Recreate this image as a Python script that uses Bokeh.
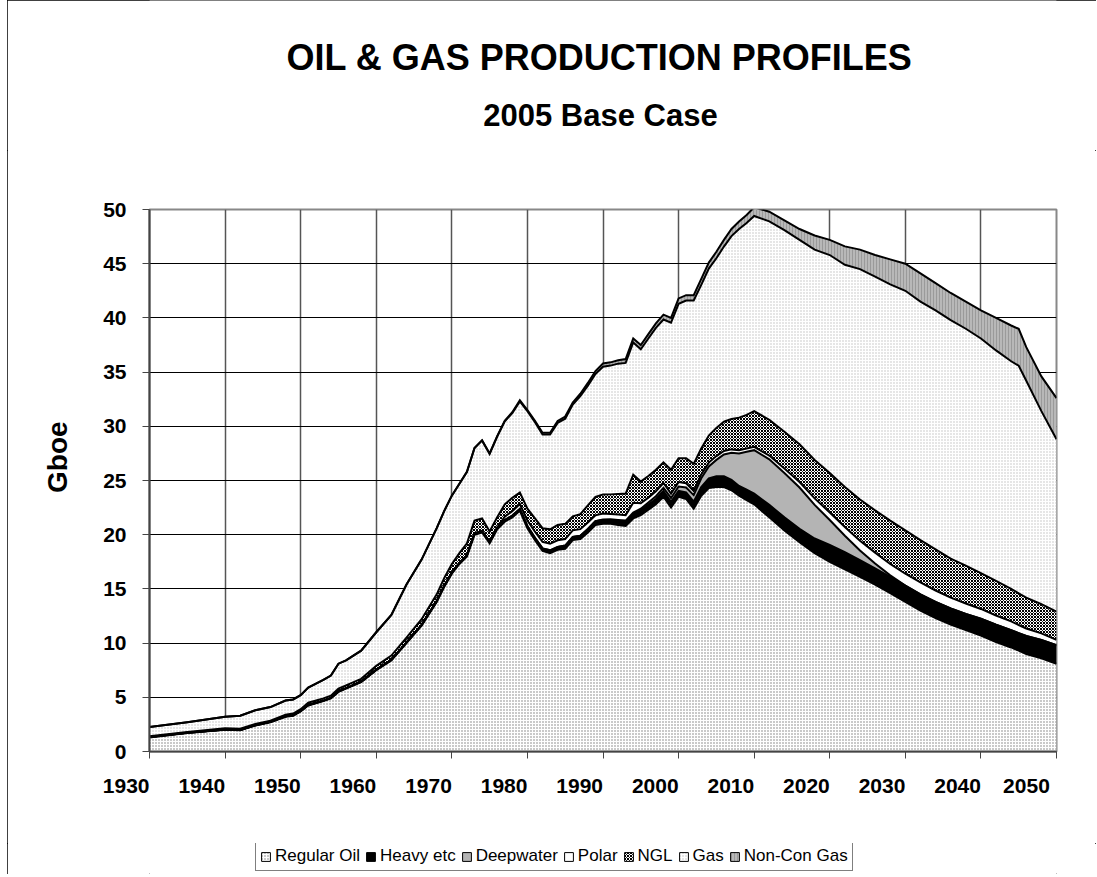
from bokeh.plotting import figure
from bokeh.layouts import column, row
from bokeh.models import (ColumnDataSource, Legend, LegendItem, FixedTicker, Range1d, Label, Spacer)
from bokeh.transform import stack
from bokeh.embed import file_html
from bokeh.resources import INLINE

years = [1930, 1935, 1940, 1942, 1944, 1946, 1948, 1949, 1950, 1951, 1953, 1954, 1955, 1956, 1958,
         1960, 1962, 1964, 1966, 1968,
         1969, 1970, 1971, 1972, 1973, 1974, 1975, 1976, 1977, 1978, 1979, 1980, 1981, 1982, 1983,
         1984, 1985, 1986, 1987, 1988, 1989, 1990, 1991, 1992, 1993, 1994, 1995, 1996, 1997, 1998,
         1999, 2000, 2001, 2002, 2003, 2004, 2005, 2006, 2007, 2008, 2009, 2010,
         2012, 2014, 2016, 2018, 2020, 2022, 2024, 2026, 2028, 2030, 2032, 2034, 2036, 2038, 2040,
         2042, 2044, 2045, 2046, 2048, 2050]

regular_oil = [1.3, 1.7, 2.0, 1.95, 2.4, 2.7, 3.2, 3.3, 3.7, 4.25, 4.65, 4.9, 5.5, 5.8, 6.4,
               7.5, 8.4, 10.0, 11.6, 13.8,
               15.2, 16.4, 17.3, 18.0, 20.0, 20.2, 19.2, 20.5, 21.2, 21.6, 22.2, 20.6, 19.5, 18.5, 18.3,
               18.6, 18.7, 19.5, 19.6, 20.2, 20.9, 21.0, 21.0, 20.9, 20.8, 21.5, 21.8, 22.3, 22.8, 23.5,
               22.5, 23.5, 23.3, 22.4, 23.6, 24.3, 24.4, 24.4, 24.1, 23.6, 23.2, 22.8,
               21.6, 20.4, 19.3, 18.3, 17.5, 16.8, 16.1, 15.4, 14.6, 13.8, 13.0, 12.3, 11.7, 11.2, 10.7,
               10.1, 9.6, 9.3, 9.0, 8.6, 8.1]

heavy = [0.03, 0.03, 0.03, 0.03, 0.03, 0.03, 0.04, 0.04, 0.04, 0.04, 0.04, 0.04, 0.05, 0.05, 0.05,
         0.05, 0.06, 0.07, 0.08, 0.09,
         0.1, 0.1, 0.1, 0.12, 0.12, 0.13, 0.15, 0.15, 0.16, 0.17, 0.18, 0.2, 0.22, 0.24, 0.26,
         0.28, 0.3, 0.3, 0.31, 0.32, 0.34, 0.35, 0.36, 0.38, 0.4, 0.42, 0.45, 0.47, 0.5, 0.52,
         0.54, 0.55, 0.6, 0.65, 0.8, 0.9, 1.0, 1.0, 0.95, 0.9, 0.95, 1.0,
         1.15, 1.2, 1.25, 1.35, 1.55, 1.6, 1.55, 1.5, 1.5, 1.5, 1.5, 1.5, 1.5, 1.5, 1.55,
         1.6, 1.6, 1.62, 1.65, 1.7, 1.7]

deepwater = [0, 0, 0, 0, 0, 0, 0, 0, 0, 0, 0, 0, 0, 0, 0,
             0, 0, 0, 0, 0,
             0, 0, 0, 0, 0, 0, 0, 0, 0, 0, 0, 0, 0, 0, 0,
             0, 0, 0, 0, 0, 0, 0.05, 0.06, 0.08, 0.1, 0.12, 0.15, 0.2, 0.25, 0.3,
             0.35, 0.4, 0.45, 0.6, 0.8, 1.1, 1.5, 2.0, 2.5, 3.0, 3.5, 4.0,
             4.2, 4.1, 3.8, 3.1, 2.3, 1.5, 0.9, 0.45, 0.15, 0, 0, 0, 0, 0, 0,
             0, 0, 0, 0, 0, 0]

polar = [0, 0, 0, 0, 0, 0, 0, 0, 0, 0, 0, 0, 0, 0, 0,
         0, 0, 0, 0, 0,
         0, 0, 0, 0, 0, 0, 0, 0, 0.3, 0.4, 0.45, 0.5, 0.55, 0.6, 0.6,
         0.6, 0.6, 0.6, 0.6, 0.6, 0.55, 0.55, 0.5, 0.5, 0.5, 0.9, 0.5, 0.45, 0.45, 0.45,
         0.4, 0.4, 0.4, 0.38, 0.36, 0.35, 0.35, 0.33, 0.32, 0.3, 0.3, 0.3,
         0.35, 0.4, 0.5, 0.6, 0.7, 0.8, 0.9, 1.0, 1.05, 1.1, 1.1, 1.05, 1.0, 0.95, 0.9,
         0.85, 0.8, 0.75, 0.7, 0.6, 0.5]

ngl = [0.07, 0.07, 0.12, 0.12, 0.12, 0.12, 0.16, 0.16, 0.16, 0.21, 0.21, 0.21, 0.25, 0.25, 0.25,
       0.35, 0.39, 0.43, 0.52, 0.61,
       0.7, 0.8, 0.9, 1.08, 1.18, 1.17, 0.95, 0.95, 1.14, 1.23, 1.07, 1.1, 1.23, 1.26, 1.34,
       1.42, 1.4, 1.3, 1.39, 1.58, 1.71, 1.75, 1.8, 1.9, 2.0, 2.6, 2.0, 2.0, 2.0, 1.9,
       2.2, 2.2, 2.3, 2.5, 2.4, 2.5, 2.6, 2.7, 2.8, 3.0, 3.1, 3.3,
       3.3, 3.4, 3.5, 3.55, 3.65, 3.7, 3.8, 3.9, 4.0, 4.0, 3.9, 3.8, 3.6, 3.5, 3.3,
       3.2, 3.0, 2.92, 2.85, 2.7, 2.6]

gas = [0.85, 0.9, 1.05, 1.2, 1.25, 1.25, 1.3, 1.3, 1.3, 1.4, 1.7, 1.85, 2.3, 2.3, 2.6,
       3.1, 3.75, 4.9, 5.5, 6.1,
       6.2, 6.3, 6.4, 6.6, 6.7, 7.2, 7.15, 7.45, 7.65, 7.82, 8.4, 9.0, 8.88, 8.65, 8.75,
       9.42, 9.7, 10.3, 10.88, 11.05, 11.33, 11.8, 11.88, 12.02, 12.05, 12.19, 12.2, 12.68, 13.08, 13.18,
       13.56, 14.25, 14.55, 15.07, 15.09, 15.4, 15.65, 16.15, 16.88, 17.4, 17.7, 18.0,
       18.3, 18.6, 18.85, 19.4, 20.1, 20.5, 21.25, 21.55, 21.8, 22.1, 22.0, 22.05, 22.0, 21.85, 21.65,
       21.25, 21.0, 21.0, 20.0, 17.8, 15.9]

noncon_gas = [0, 0, 0, 0, 0, 0, 0, 0, 0, 0, 0, 0, 0, 0, 0,
              0, 0, 0, 0, 0,
              0, 0, 0, 0, 0, 0, 0.05, 0.05, 0.05, 0.08, 0.1, 0.1, 0.12, 0.15, 0.15,
              0.18, 0.2, 0.2, 0.22, 0.25, 0.27, 0.3, 0.3, 0.32, 0.35, 0.37, 0.4, 0.4, 0.42, 0.45,
              0.45, 0.5, 0.5, 0.5, 0.55, 0.55, 0.6, 0.62, 0.65, 0.7, 0.75, 0.8,
              0.9, 0.9, 1.0, 1.3, 1.4, 1.7, 1.8, 2.0, 2.3, 2.5, 2.6, 2.5, 2.5, 2.5, 2.6,
              3.0, 3.3, 3.4, 3.1, 3.2, 3.8]

series_labels = ["Regular Oil", "Heavy etc", "Deepwater", "Polar", "NGL", "Gas", "Non-Con Gas"]
title_lines = ["OIL & GAS PRODUCTION PROFILES", "2005 Base Case"]
y_label = "Gboe"
y_ticks = [0, 5, 10, 15, 20, 25, 30, 35, 40, 45, 50]
x_ticks = [1930, 1940, 1950, 1960, 1970, 1980, 1990, 2000, 2010, 2020, 2030, 2040, 2050]

cols = ["regular_oil", "heavy", "deepwater", "polar", "ngl", "gas", "noncon_gas"]
src = ColumnDataSource(dict(year=years, regular_oil=regular_oil, heavy=heavy, deepwater=deepwater,
                            polar=polar, ngl=ngl, gas=gas, noncon_gas=noncon_gas))

styles = [
    dict(fill_color="white", hatch_pattern="dot", hatch_color="#7a7a7a", hatch_scale=3, hatch_weight=1),
    dict(fill_color="black"),
    dict(fill_color="#b4b4b4"),
    dict(fill_color="white"),
    dict(fill_color="white", hatch_pattern="diagonal_cross", hatch_color="#000000", hatch_scale=3, hatch_weight=1),
    dict(fill_color="white", hatch_pattern="dot", hatch_color="#c0c0c0", hatch_scale=3, hatch_weight=1),
    dict(fill_color="#b8b8b8", hatch_pattern="vertical_line", hatch_color="#9a9a9a", hatch_scale=3, hatch_weight=1),
]

FONT = "Liberation Sans"
W = 1089
FRAME_W = 907  # the strips' frames are aligned to the chart's frame by the column layout
NBSP = "\u00a0"

# ---- title strip ----
tf = figure(width=W, height=150, output_backend="svg", toolbar_location=None, title=None,
            x_range=Range1d(0, FRAME_W), y_range=Range1d(0, 150), x_axis_type=None, y_axis_type=None,
            min_border=0)
tf.outline_line_color = None
tf.grid.visible = False
tf.add_layout(Label(x=450, y=93, text=title_lines[0], text_align="center", text_baseline="middle",
                    text_font=FONT, text_font_size="36px", text_font_style="bold", text_color="black"))
tf.add_layout(Label(x=451, y=35, text=title_lines[1], text_align="center", text_baseline="middle",
                    text_font=FONT, text_font_size="31px", text_font_style="bold", text_color="black"))

# ---- main chart ----
p = figure(width=W, height=693, output_backend="svg", toolbar_location=None, title=None,
           x_range=Range1d(1930, 2050), y_range=Range1d(0, 50),
           min_border_left=142, min_border_right=40, min_border_top=59, min_border_bottom=92)

for i, c in enumerate(cols):
    p.varea(x="year", y1=stack(*cols[:i]), y2=stack(*cols[:i + 1]), source=src, **styles[i])

for i, c in enumerate(cols):
    p.line(x="year", y=stack(*cols[:i + 1]), source=src, line_color="black", line_width=2,
           line_join="miter")

p.xaxis.ticker = FixedTicker(ticks=x_ticks)
p.yaxis.ticker = FixedTicker(ticks=y_ticks)
for ax in (p.xaxis, p.yaxis):
    ax.major_label_text_font = FONT
    ax.major_label_text_font_size = "21px"
    ax.major_label_text_font_style = "bold"
    ax.major_label_text_color = "black"
    ax.axis_line_color = "#444444"
    ax.axis_line_width = 2
    ax.major_tick_line_color = "#444444"
    ax.major_tick_line_width = 1
    ax.major_tick_in = 0
    ax.major_tick_out = 7
    ax.minor_tick_line_color = None
# category labels sit slightly left of their gridlines, as in the original
p.xaxis.major_label_overrides = {t: str(t) + NBSP * 8 for t in x_ticks}
p.xaxis.major_label_standoff = 15
p.yaxis.major_label_standoff = 16
p.yaxis.axis_label = NBSP * 6 + y_label
p.yaxis.axis_label_text_font = FONT
p.yaxis.axis_label_text_font_size = "28px"
p.yaxis.axis_label_text_font_style = "bold"
p.yaxis.axis_label_text_color = "black"
p.yaxis.axis_label_standoff = 27

p.ygrid.grid_line_color = "black"
p.ygrid.grid_line_width = 1
p.xgrid.grid_line_color = "#555555"
p.xgrid.grid_line_width = 1.5
p.outline_line_color = "#888888"
p.outline_line_width = 2
p.background_fill_color = "white"
p.border_fill_color = "white"

# ---- legend strip ----
lg = figure(width=W, height=31, output_backend="svg", toolbar_location=None, title=None,
            x_range=Range1d(0, 1), y_range=Range1d(0, 1), x_axis_type=None, y_axis_type=None,
            min_border=0)
lg.outline_line_color = None
lg.grid.visible = False
items = []
for i, lab in enumerate(series_labels):
    r = lg.quad(left=[-5], right=[-4], bottom=[-5], top=[-4], line_color="black", line_width=1, **styles[i])
    items.append(LegendItem(label=lab, renderers=[r]))
legend = Legend(items=items, orientation="horizontal", location=(106, 3),
                label_text_font=FONT, label_text_font_size="17px", label_text_color="black",
                glyph_width=11, glyph_height=11, label_standoff=4, spacing=5, padding=4, margin=0,
                border_line_color="black", border_line_width=1, background_fill_color="white",
                label_height=14)
lg.add_layout(legend, "center")

chart = column(tf, p, lg, spacing=0)
chart.styles = {"outline": "1px solid #000000", "outline-offset": "-1px"}
layout = row(Spacer(width=7, height=10), chart, spacing=0)

open("out.html", "w").write(file_html(layout, INLINE))
